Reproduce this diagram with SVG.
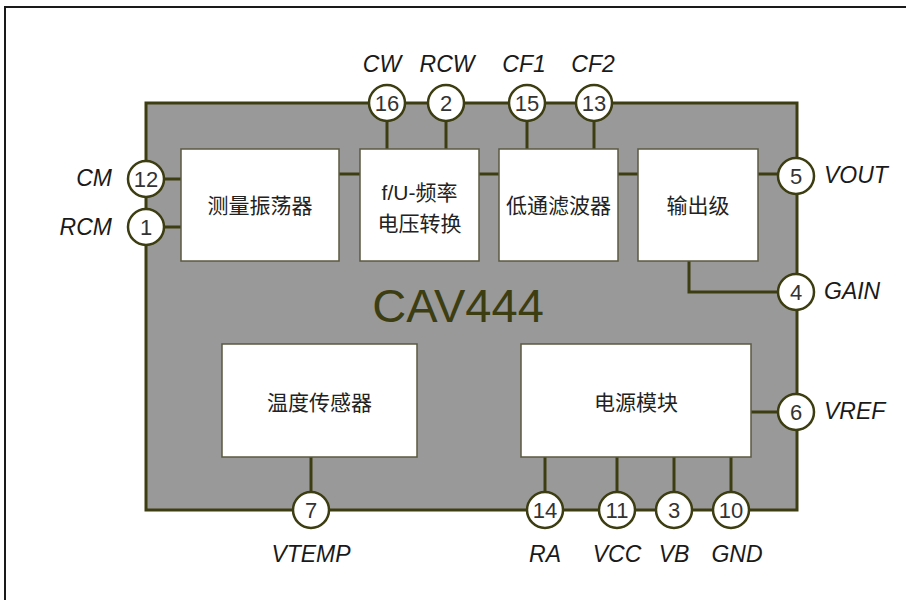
<svg xmlns="http://www.w3.org/2000/svg" width="906" height="600" viewBox="0 0 906 600">
<style>
.wire{stroke:#3d3d12;stroke-width:3;fill:none}
.pin circle{fill:#ffffff;stroke:#3d3d12;stroke-width:2.5}
.pin text{font-family:"Liberation Sans",Arial,sans-serif;font-size:22px;fill:#333333;text-anchor:middle}
.lbl{font-family:"Liberation Sans",Arial,sans-serif;font-size:23px;font-style:italic;fill:#1a1a1a}
.box rect{fill:#ffffff;stroke:#5a5a40;stroke-width:1.5}
.box text{font-family:"Liberation Sans","Noto Sans CJK SC",sans-serif;font-size:21px;fill:#222222;text-anchor:middle}
</style>
<rect x="0" y="0" width="906" height="600" fill="#ffffff"/>
<rect x="5" y="7" width="910" height="600" fill="none" stroke="#1a1a1a" stroke-width="2"/>
<g id="chip">
<rect x="146" y="103" width="651" height="407" fill="#999999" stroke="#3d3d12" stroke-width="3"/>
<text x="458" y="322" font-family="'Liberation Sans',Arial,sans-serif" font-size="47" fill="#3d3d12" text-anchor="middle">CAV444</text>
</g>
<g id="connectors">
<line class="wire" x1="146" y1="179" x2="181" y2="179"/>
<line class="wire" x1="146" y1="227" x2="181" y2="227"/>
<line class="wire" x1="339" y1="174" x2="360" y2="174"/>
<line class="wire" x1="479" y1="174" x2="499" y2="174"/>
<line class="wire" x1="618" y1="174" x2="638" y2="174"/>
<line class="wire" x1="758" y1="174" x2="797" y2="174"/>
<line class="wire" x1="387" y1="103" x2="387" y2="149"/>
<line class="wire" x1="446" y1="103" x2="446" y2="149"/>
<line class="wire" x1="527" y1="103" x2="527" y2="149"/>
<line class="wire" x1="594" y1="103" x2="594" y2="149"/>
<polyline class="wire" points="689,261 689,292 797,292"/>
<line class="wire" x1="311" y1="457" x2="311" y2="510"/>
<line class="wire" x1="751" y1="412" x2="797" y2="412"/>
<line class="wire" x1="545" y1="457" x2="545" y2="510"/>
<line class="wire" x1="617" y1="457" x2="617" y2="510"/>
<line class="wire" x1="674" y1="457" x2="674" y2="510"/>
<line class="wire" x1="731" y1="457" x2="731" y2="510"/>
</g>
<g id="box-osc" class="box"><rect x="181" y="149" width="158" height="112"/><text x="260" y="213">测量振荡器</text></g>
<g id="box-fu" class="box"><rect x="360" y="149" width="119" height="112"/><text x="419.5" y="200">f/U-频率</text><text x="419.5" y="231">电压转换</text></g>
<g id="box-lpf" class="box"><rect x="499" y="149" width="119" height="112"/><text x="558.5" y="213">低通滤波器</text></g>
<g id="box-out" class="box"><rect x="638" y="149" width="120" height="112"/><text x="698" y="213">输出级</text></g>
<g id="box-temp" class="box"><rect x="222" y="344" width="195" height="113"/><text x="319.5" y="410">温度传感器</text></g>
<g id="box-pwr" class="box"><rect x="521" y="344" width="230" height="113"/><text x="636" y="410">电源模块</text></g>
<g id="pin16" class="pin"><circle cx="387" cy="103" r="18"/><text x="387" y="111">16</text></g>
<g id="pin2" class="pin"><circle cx="446" cy="103" r="18"/><text x="446" y="111">2</text></g>
<g id="pin15" class="pin"><circle cx="527" cy="103" r="18"/><text x="527" y="111">15</text></g>
<g id="pin13" class="pin"><circle cx="594" cy="103" r="18"/><text x="594" y="111">13</text></g>
<g id="pin12" class="pin"><circle cx="146" cy="179" r="18"/><text x="146" y="187">12</text></g>
<g id="pin1" class="pin"><circle cx="146" cy="227" r="18"/><text x="146" y="235">1</text></g>
<g id="pin5" class="pin"><circle cx="796" cy="176" r="18"/><text x="796" y="184">5</text></g>
<g id="pin4" class="pin"><circle cx="796" cy="292" r="18"/><text x="796" y="300">4</text></g>
<g id="pin6" class="pin"><circle cx="796" cy="412" r="18"/><text x="796" y="420">6</text></g>
<g id="pin7" class="pin"><circle cx="311" cy="510" r="18"/><text x="311" y="518">7</text></g>
<g id="pin14" class="pin"><circle cx="545" cy="510" r="18"/><text x="545" y="518">14</text></g>
<g id="pin11" class="pin"><circle cx="617" cy="510" r="18"/><text x="617" y="518">11</text></g>
<g id="pin3" class="pin"><circle cx="674" cy="510" r="18"/><text x="674" y="518">3</text></g>
<g id="pin10" class="pin"><circle cx="731" cy="510" r="18"/><text x="731" y="518">10</text></g>
<g id="labels">
<text class="lbl" x="382" y="72" text-anchor="middle">CW</text>
<text class="lbl" x="447" y="72" text-anchor="middle">RCW</text>
<text class="lbl" x="524" y="72" text-anchor="middle">CF1</text>
<text class="lbl" x="593" y="72" text-anchor="middle">CF2</text>
<text class="lbl" x="112" y="186" text-anchor="end">CM</text>
<text class="lbl" x="112" y="235" text-anchor="end">RCM</text>
<text class="lbl" x="824" y="183">VOUT</text>
<text class="lbl" x="824" y="299">GAIN</text>
<text class="lbl" x="824" y="419">VREF</text>
<text class="lbl" x="311" y="562" text-anchor="middle">VTEMP</text>
<text class="lbl" x="545" y="562" text-anchor="middle">RA</text>
<text class="lbl" x="617" y="562" text-anchor="middle">VCC</text>
<text class="lbl" x="674" y="562" text-anchor="middle">VB</text>
<text class="lbl" x="737" y="562" text-anchor="middle">GND</text>
</g>
</svg>
